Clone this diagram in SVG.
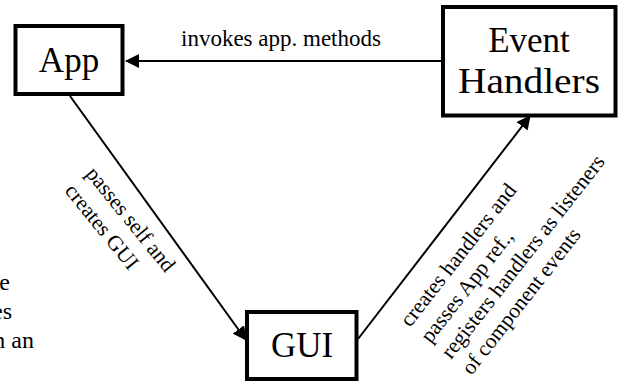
<svg xmlns="http://www.w3.org/2000/svg" width="619" height="381" viewBox="0 0 619 381">
<defs>
<style>
.box{fill:#fff;stroke:#000;stroke-width:4}
.lbl{fill:#000}
.node{font-size:35px;text-anchor:middle}
.edge{font-size:21.5px}
.conn{stroke:#000;stroke-width:2;fill:none}
</style>
<marker id="ah" viewBox="0 0 14 14" refX="13" refY="7" markerWidth="14" markerHeight="14" markerUnits="userSpaceOnUse" orient="auto">
<path d="M0,0 L14,7 L0,14 Z" fill="#000"/>
</marker>
</defs>
<rect width="619" height="381" fill="#fff"/>
<g font-family="'Liberation Serif', 'DejaVu Serif', serif">
<g id="side-text" class="lbl" font-size="24" text-anchor="end">
<text x="10" y="290">e</text>
<text x="12" y="319">es</text>
<text x="34" y="348">n an</text>
</g>
<g id="connectors">
<line class="conn" x1="443" y1="61" x2="126" y2="61" marker-end="url(#ah)"/>
<line class="conn" x1="70" y1="96" x2="246" y2="340" marker-end="url(#ah)"/>
<line class="conn" x1="358" y1="339" x2="530" y2="116" marker-end="url(#ah)"/>
<text class="lbl" x="181" y="46" font-size="23">invokes app. methods</text>
<g class="lbl edge" transform="translate(85,174) rotate(51)">
<text x="0" y="0">passes self and</text>
<text x="0" y="27">creates GUI</text>
</g>
<g class="lbl edge" transform="translate(410,328) rotate(-52)">
<text x="0" y="0">creates handlers and</text>
<text x="0" y="26">passes App ref.,</text>
<text x="0" y="52">registers handlers as listeners</text>
<text x="0" y="78">of component events</text>
</g>
</g>
<g id="app">
<rect class="box" x="15.5" y="26" width="107" height="68"/>
<text class="lbl node" x="69" y="72">App</text>
</g>
<g id="event-handlers">
<rect class="box" x="443" y="7" width="172.5" height="108.5"/>
<text class="lbl node" x="529" y="52">Event</text>
<text class="lbl node" x="529" y="93" textLength="142" lengthAdjust="spacingAndGlyphs">Handlers</text>
</g>
<g id="gui">
<rect class="box" x="247" y="312" width="109.5" height="67"/>
<text class="lbl node" x="302" y="357">GUI</text>
</g>
</g>
</svg>
